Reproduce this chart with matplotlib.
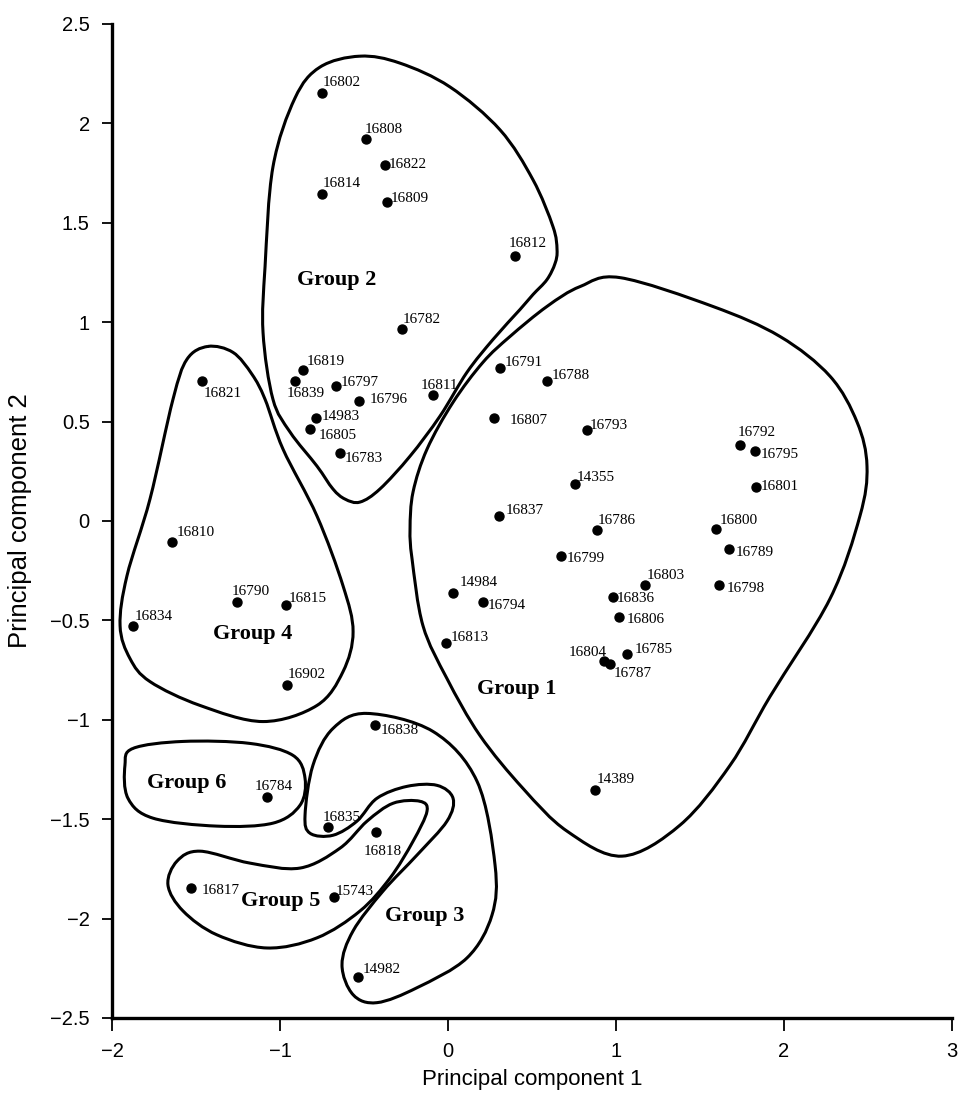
import numpy as np
import matplotlib
matplotlib.use("Agg")
import matplotlib.pyplot as plt
from matplotlib.path import Path
from matplotlib.patches import PathPatch

# sample scores on the first two principal components
names = ['16802', '16808', '16822', '16814', '16809', '16812', '16782', '16819',
         '16839', '16797', '16796', '16811', '14983', '16805', '16783',
         '16821', '16810', '16790', '16815', '16834', '16902',
         '16791', '16788', '16807', '16793', '16792', '16795', '14355', '16801',
         '16837', '16786', '16800', '16789', '16799', '16803', '16798', '16836',
         '16794', '16806', '16785', '16804', '16787', '14984', '16813', '14389',
         '16784', '16838', '16835', '14982', '16818', '16817', '15743']
pc1 = [-0.752, -0.488, -0.375, -0.750, -0.365, 0.399, -0.274, -0.865,
       -0.909, -0.667, -0.530, -0.088, -0.786, -0.821, -0.643,
       -1.466, -1.645, -1.256, -0.964, -1.873, -0.957,
       0.310, 0.591, 0.276, 0.826, 1.738, 1.829, 0.756, 1.833,
       0.305, 0.887, 1.595, 1.674, 0.674, 1.173, 1.615, 0.980,
       0.210, 1.018, 1.067, 0.929, 0.964, 0.032, -0.014, 0.877,
       -1.079, -0.436, -0.713, -0.536, -0.430, -1.528, -0.679]
pc2 = [2.151, 1.920, 1.793, 1.646, 1.606, 1.335, 0.968, 0.758,
       0.704, 0.679, 0.602, 0.632, 0.517, 0.462, 0.341,
       0.704, -0.104, -0.410, -0.423, -0.527, -0.826,
       0.769, 0.704, 0.518, 0.457, 0.383, 0.353, 0.184, 0.172,
       0.027, -0.044, -0.040, -0.142, -0.176, -0.321, -0.323, -0.380,
       -0.408, -0.483, -0.669, -0.706, -0.719, -0.361, -0.612, -1.355,
       -1.388, -1.027, -1.537, -2.293, -1.567, -1.845, -1.890]

# group outlines (drawn by hand in the original), data coordinates
group1_x = [1.024, 1.577, 1.976, 2.274, 2.435, 2.494, 2.452, 2.274, 1.917, 1.679,
            1.381, 1.036, 0.708, 0.446, 0.190, -0.006, -0.149, -0.214,
            -0.226, -0.208, -0.125, 0.030, 0.208, 0.369, 0.589, 0.786]
group1_y = [1.224, 1.079, 0.928, 0.728, 0.497, 0.276, 0.025, -0.391, -0.883, -1.229,
            -1.530, -1.686, -1.560, -1.345, -1.079, -0.793, -0.527, -0.191,
            -0.040, 0.146, 0.361, 0.597, 0.798, 0.928, 1.079, 1.179]
group2_x = [-0.524, -0.286, 0.012, 0.310, 0.506, 0.625, 0.649, 0.637, 0.589, 0.506,
            0.429, 0.268, 0.113, -0.048, -0.226, -0.405, -0.524, -0.613, -0.685,
            -0.780, -0.940, -1.042, -1.101, -1.089, -1.042, -0.911, -0.762]
group2_y = [2.338, 2.303, 2.183, 1.967, 1.716, 1.480, 1.365, 1.295, 1.214, 1.139,
            1.064, 0.913, 0.748, 0.527, 0.326, 0.161, 0.095, 0.110, 0.161,
            0.276, 0.447, 0.612, 0.948, 1.279, 1.781, 2.127, 2.283]
group3_x = [-0.482, -0.089, 0.173, 0.280, 0.262, 0.113, -0.185, -0.423, -0.565, -0.631,
            -0.565, -0.387, -0.185, -0.006, 0.030, -0.065, -0.244, -0.423, -0.542,
            -0.685, -0.821, -0.851, -0.804, -0.685]
group3_y = [-0.968, -1.059, -1.310, -1.731, -1.982, -2.198, -2.348, -2.423, -2.383, -2.233,
            -2.062, -1.862, -1.681, -1.510, -1.395, -1.330, -1.335, -1.395, -1.510,
            -1.581, -1.571, -1.480, -1.229, -1.044]
group4_x = [-1.429, -1.280, -1.167, -1.089, -0.982, -0.780, -0.625, -0.565, -0.625,
            -0.780, -1.101, -1.476, -1.774, -1.893, -1.952, -1.911, -1.774, -1.637, -1.554]
group4_y = [0.878, 0.848, 0.738, 0.612, 0.361, 0.025, -0.326, -0.557, -0.758,
            -0.928, -1.009, -0.928, -0.808, -0.692, -0.527, -0.276, 0.110, 0.612, 0.813]
group5_x = [-0.167, -0.327, -0.482, -0.643, -0.881, -1.179, -1.476, -1.613, -1.667,
            -1.577, -1.375, -1.077, -0.780, -0.524, -0.345, -0.208, -0.125]
group5_y = [-1.410, -1.420, -1.510, -1.646, -1.746, -1.721, -1.661, -1.711, -1.831,
            -1.962, -2.082, -2.148, -2.097, -1.962, -1.796, -1.611, -1.460]
group6_x = [-1.875, -1.577, -1.179, -0.923, -0.851, -0.881, -1.042, -1.375, -1.756,
            -1.905, -1.923]
group6_y = [-1.144, -1.109, -1.119, -1.179, -1.295, -1.430, -1.520, -1.535, -1.495,
            -1.395, -1.229]

group_names = ['Group 1', 'Group 2', 'Group 3', 'Group 4', 'Group 5', 'Group 6']
group_text_x = [0.408, -0.661, -0.137, -1.164, -0.995, -1.558]
group_text_y = [-0.868, 1.189, -2.010, -0.592, -1.937, -1.345]

# label placement, pixel offsets from the dot (text left / baseline)
label_pos = {
    '16802': (1, 7), '16808': (-1, 6), '16822': (4, -3), '16814': (1, 7),
    '16809': (4, 0), '16812': (-6, 9), '16782': (1, 6), '16819': (4, 5),
    '16839': (-9, -16), '16797': (5, 0), '16796': (11, -2), '16811': (-13, 6),
    '14983': (6, -2), '16805': (9, -10), '16783': (5, -9), '16821': (2, -16),
    '16810': (5, 6), '16790': (-5, 7), '16815': (3, 3), '16834': (1, 6),
    '16902': (0, 7), '16791': (5, 2), '16788': (4, 2), '16807': (15, -6),
    '16793': (3, 1), '16792': (-2, 9), '16795': (5, -7), '14355': (2, 3),
    '16801': (5, -3), '16837': (6, 2), '16786': (1, 6), '16800': (4, 5),
    '16789': (6, -7), '16799': (5, -6), '16803': (2, 6), '16798': (7, -7),
    '16836': (4, -5), '16794': (4, -7), '16806': (8, -6), '16785': (7, 1),
    '16804': (3, 5), '16787': (4, -13), '14984': (6, 7), '16813': (5, 2),
    '14389': (1, 7), '16784': (-12, 7), '16838': (6, -9), '16835': (-6, 6),
    '14982': (5, 4), '16818': (-12, -23), '16817': (10, -6), '15743': (2, 2),
}
right_aligned = ['16804']


def smooth_outline(xs, ys):
    # closed Catmull-Rom curve through the points, as cubic Bezier segments
    p = np.column_stack([xs, ys])
    n = len(p)
    verts = [p[0]]
    codes = [Path.MOVETO]
    for i in range(n):
        p0, p1, p2, p3 = p[i - 1], p[i], p[(i + 1) % n], p[(i + 2) % n]
        verts += [p1 + (p2 - p0) / 6.0, p2 - (p3 - p1) / 6.0, p2]
        codes += [Path.CURVE4] * 3
    return Path(verts, codes)


def minus_fmt(v, pos):
    return f'{v:g}'.replace('-', '\u2212')


fig = plt.figure(figsize=(9.59, 10.94), dpi=100)
ax = fig.add_axes([0.1168, 0.0695, 0.8759, 0.9086])

outlines = [(group1_x, group1_y), (group2_x, group2_y), (group3_x, group3_y),
            (group4_x, group4_y), (group5_x, group5_y), (group6_x, group6_y)]
for gx, gy in outlines:
    ax.add_patch(PathPatch(smooth_outline(gx, gy), facecolor='none',
                           edgecolor='black', lw=2.2))

ax.scatter(pc1, pc2, s=42, color='black', zorder=3)

for name, x, y in zip(names, pc1, pc2):
    dx, dy = label_pos[name]
    ha = 'right' if name in right_aligned else 'left'
    ax.annotate(name, (x, y), xytext=(dx, dy), textcoords='offset pixels',
                ha=ha, va='baseline', fontsize=11, family='Liberation Serif')

for g, x, y in zip(group_names, group_text_x, group_text_y):
    ax.text(x, y, g, ha='center', va='baseline', fontsize=16,
            fontweight='bold', family='Liberation Serif')

ax.set_xlim(-2, 3)
ax.set_ylim(-2.5, 2.5)
ax.set_xticks([-2, -1, 0, 1, 2, 3])
ax.set_yticks([-2.5, -2, -1.5, -1, -0.5, 0, 0.5, 1, 1.5, 2, 2.5])
ax.xaxis.set_major_formatter(plt.FuncFormatter(minus_fmt))
ax.yaxis.set_major_formatter(plt.FuncFormatter(minus_fmt))

for s in ['top', 'right']:
    ax.spines[s].set_visible(False)
for s in ['left', 'bottom']:
    ax.spines[s].set_linewidth(2.4)

ax.tick_params(axis='x', direction='out', length=9, width=1.3, pad=8,
               labelsize=14.5, labelfontfamily='Liberation Sans')
ax.tick_params(axis='y', direction='out', length=7, width=1.3, pad=9,
               labelsize=14.5, labelfontfamily='Liberation Sans')

ax.set_xlabel('Principal component 1', fontsize=16, family='Liberation Sans', labelpad=6)
ax.set_ylabel('Principal component 2', fontsize=18.5, family='Liberation Sans', labelpad=13)

fig.savefig('out.png', dpi=100)
